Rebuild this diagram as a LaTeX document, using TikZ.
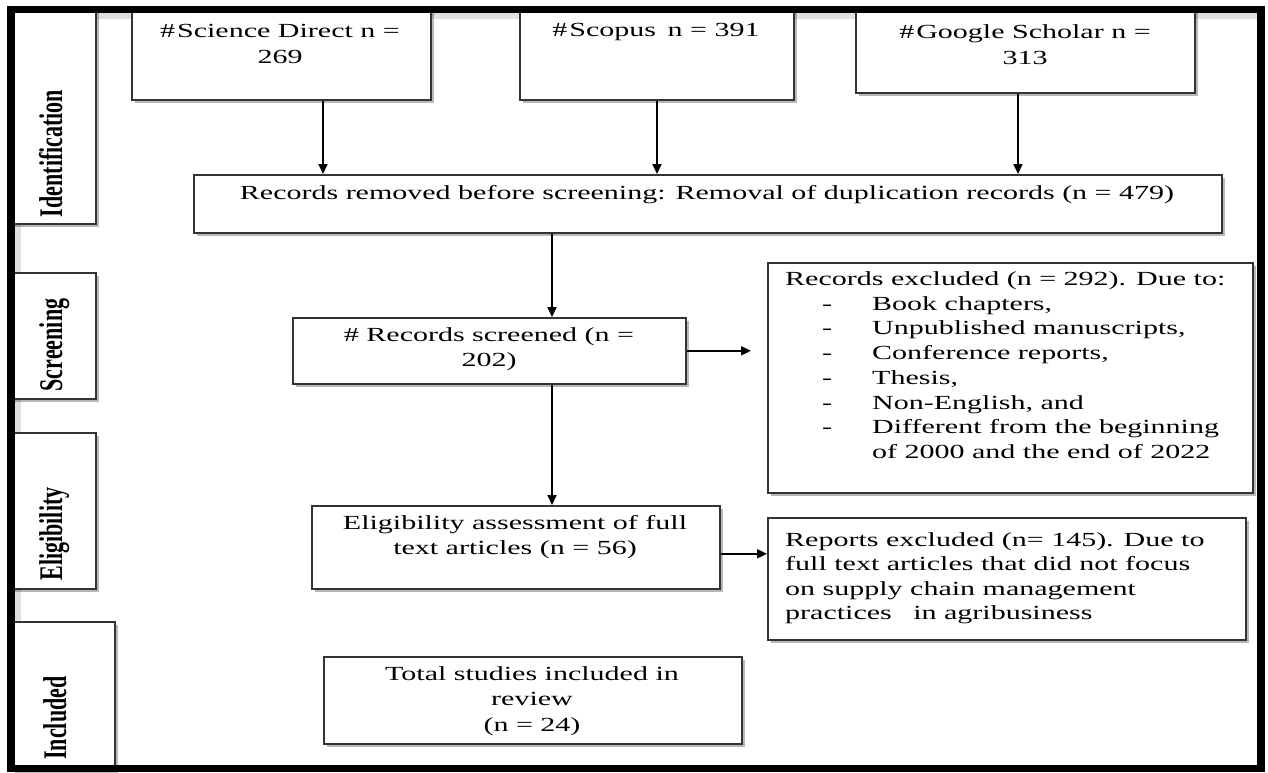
\documentclass[tikz,border=0pt]{standalone}
\usepackage{fontspec}
\setmainfont{Liberation Serif}[FakeStretch=1.5]
\newfontfamily\sidefont{Liberation Serif}
\usepackage{graphicx}
\usetikzlibrary{arrows.meta,shadows}
\begin{document}
\begin{tikzpicture}[x=1pt,y=-1pt,
  box/.style={draw=black!80, line width=1.6pt, fill=white, inner sep=0pt,
    drop shadow={shadow xshift=3pt, shadow yshift=-3pt, fill=black, opacity=0.28}},
  txt/.style={font=\fontsize{20}{25.5}\selectfont, inner sep=0pt, align=center, anchor=north},
  ltxt/.style={font=\fontsize{20}{24.7}\selectfont, inner sep=0pt, align=left, anchor=north west},
  side/.style={inner sep=0pt, font=\sidefont\fontsize{22}{22}\selectfont\bfseries},
  arr/.style={line width=1.8pt, draw=black, -{Triangle[length=10pt,width=9pt]}}
]
\useasboundingbox (0,0) rectangle (1268,772);
\fill[white] (0,0) rectangle (1268,772);
% inner shading along the frame
\fill[black!12] (15,13) rectangle (21,765);
\fill[black!12] (15,13) rectangle (1257,19);

% stage boxes
\node[box, anchor=north west, minimum width=84pt, minimum height=213.5pt] (idb) at (11,9.5) {};
\node[box, anchor=north west, minimum width=84pt, minimum height=126pt] (scb) at (11,272) {};
\node[box, anchor=north west, minimum width=84pt, minimum height=156pt] (elb) at (11,432) {};
\node[box, anchor=north west, minimum width=103pt, minimum height=148pt] (inb) at (11,621) {};
\node[side] (idt) at (62,153.5) {\scalebox{1.5}[1]{\rotatebox{90}{\smash{Identification}}}};
\node[side] (sct) at (62,345) {\scalebox{1.5}[1]{\rotatebox{90}{\smash{Screening}}}};
\node[side] (elt) at (62,534) {\scalebox{1.5}[1]{\rotatebox{90}{\smash{Eligibility}}}};
\node[side] (int) at (66,718) {\scalebox{1.5}[1]{\rotatebox{90}{\smash{Included}}}};

% source boxes
\node[box, anchor=north west, minimum width=299pt, minimum height=89.5pt] (sd) at (131,9.5) {};
\node[box, anchor=north west, minimum width=274pt, minimum height=89.5pt] (sc) at (519,9.5) {};
\node[box, anchor=north west, minimum width=339pt, minimum height=82.5pt] (gs) at (855,9.5) {};
\node[txt] (sdt) at (280,24.5) {\#\kern2pt Science Direct n =\\269};
\node[txt] (sct2) at (656,23.5) {\#\kern2pt Scopus\hspace{4pt} n = 391};
\node[txt] (gst) at (1025,24.5) {\#\kern2pt Google Scholar n =\\313};

% flow boxes
\node[box, anchor=north west, minimum width=1028pt, minimum height=58pt] (rem) at (193,174) {};
\node[txt] (remt) at (707,185) {Records removed before screening: Removal of duplication records (n = 479)};

\node[box, anchor=north west, minimum width=393pt, minimum height=66pt] (scr) at (292,317) {};
\node[txt] (scrt) at (489,327) {\# Records screened (n =\\202)};

\node[box, anchor=north west, minimum width=485pt, minimum height=230pt] (exc) at (767,262) {};
\node[ltxt] (exct) at (785,271.5) {Records excluded (n = 292). Due to:\\
\hspace*{37pt}\makebox[50pt][l]{-}Book chapters,\\
\hspace*{37pt}\makebox[50pt][l]{-}Unpublished manuscripts,\\
\hspace*{37pt}\makebox[50pt][l]{-}Conference reports,\\
\hspace*{37pt}\makebox[50pt][l]{-}Thesis,\\
\hspace*{37pt}\makebox[50pt][l]{-}Non-English, and\\
\hspace*{37pt}\makebox[50pt][l]{-}Different from the beginning\\
\hspace*{87pt}of 2000 and the end of 2022};

\node[box, anchor=north west, minimum width=408pt, minimum height=83pt] (elig) at (311,505) {};
\node[txt] (eligt) at (515,515) {Eligibility assessment of full\\text articles (n = 56)};

\node[box, anchor=north west, minimum width=478pt, minimum height=122pt] (rep) at (767,517) {};
\node[ltxt, font=\fontsize{20}{24.5}\selectfont] (rept) at (785,532) {Reports excluded (n= 145). Due to\\
full text articles that did not focus\\
on supply chain management\\
practices\hspace{14pt} in agribusiness};

\node[box, anchor=north west, minimum width=418pt, minimum height=87pt] (tot) at (323,656) {};
\node[txt] (tott) at (532,666) {Total studies included in\\review\\(n = 24)};

% connectors
\coordinate (c1) at (323,0);
\coordinate (c2) at (657,0);
\coordinate (c3) at (1018,0);
\coordinate (c4) at (552,0);
\draw[arr] (sd.south -| c1) -- (rem.north -| c1);
\draw[arr] (sc.south -| c2) -- (rem.north -| c2);
\draw[arr] (gs.south -| c3) -- (rem.north -| c3);
\draw[arr] (rem.south -| c4) -- (scr.north -| c4);
\draw[arr] (scr.south -| c4) -- (elig.north -| c4);
\draw[arr, shorten >=16pt] (scr.east) -- (scr.east -| exc.west);
\draw[arr] ([yshift=-6.5pt]elig.east) -- ([yshift=-6.5pt]elig.east -| rep.west);

% outer frame
\draw[line width=7.5pt] (11,9.5) rectangle (1261,768.5);
\end{tikzpicture}
\end{document}
